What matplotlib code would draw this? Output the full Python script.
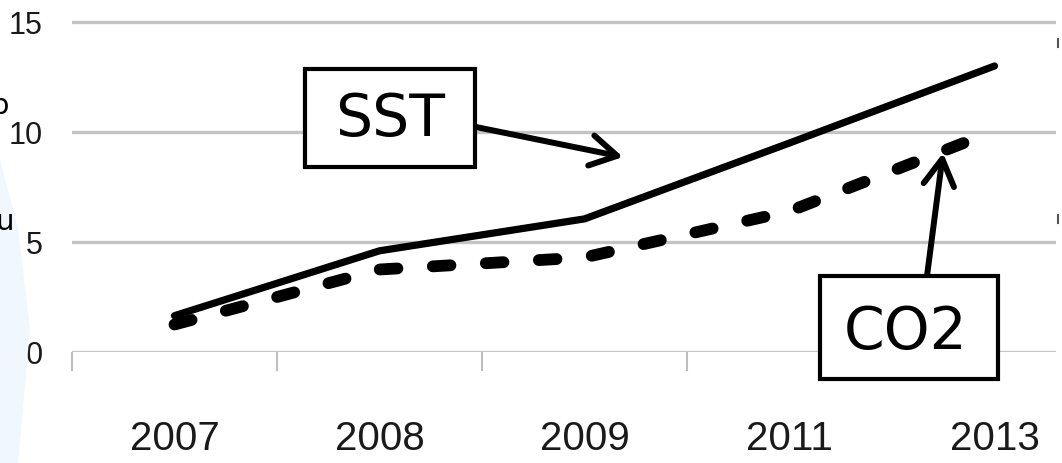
import matplotlib
matplotlib.use("Agg")
import matplotlib.pyplot as plt
from matplotlib.patches import Rectangle, Polygon
from matplotlib.lines import Line2D

years = ["2007", "2008", "2009", "2011", "2013"]
sst = [1.65, 4.6, 6.05, 9.5, 13.0]
co2 = [1.25, 3.75, 4.3, 6.4, 10.05]
yticks = [0, 5, 10, 15]

W, H = 1062, 464
fig = plt.figure(figsize=(W / 100, H / 100), dpi=100)
tickfont = "Liberation Sans"


def fx(px):
    return px / W


def fy(py):
    return 1 - py / H


# faint light blue background shape on the left
fig.patches.append(Polygon([(fx(0), fy(160)), (fx(18), fy(230)), (fx(30), fy(330)),
                            (fx(18), fy(464)), (fx(0), fy(464))],
                           closed=True, transform=fig.transFigure,
                           facecolor="#f0f7fd", edgecolor="none", zorder=0))

ax = fig.add_axes([fx(72), fy(353), fx(1056) - fx(72), (353 - 12) / H])
ax.set_facecolor("none")
x = list(range(len(years)))
ax.set_xlim(-0.5, 4.3)
ax.set_ylim(0, 15.5)

for sp in ax.spines.values():
    sp.set_visible(False)

ax.set_yticks(yticks)
ax.set_yticklabels([str(v) for v in yticks], fontfamily=tickfont, fontsize=22,
                   color="#1a1a1a")
ax.tick_params(axis="y", length=0, pad=21)
ax.yaxis.grid(True, color="#c4c4c4", linewidth=2.4)
ax.set_axisbelow(True)

ax.set_xticks(x)
ax.set_xticklabels(years, fontfamily=tickfont, fontsize=29, color="#1a1a1a")
ax.tick_params(axis="x", which="major", length=0, pad=48)
ax.set_xticks([i - 0.5 for i in x], minor=True)
ax.tick_params(axis="x", which="minor", length=14, width=1.5, color="#bdbdbd", direction="out")

ax.plot(x, sst, color="black", linewidth=5.2, solid_capstyle="round", zorder=3)
ln, = ax.plot(x, co2, color="black", linewidth=8.5, zorder=3,
              dash_capstyle="round")
ln.set_dashes((1.5, 3.0))

# SST label box
fig.patches.append(Rectangle((fx(305), fy(168)), fx(475) - fx(305), fy(70) - fy(168),
                             transform=fig.transFigure, facecolor="white",
                             edgecolor="black", linewidth=3, zorder=5))
fig.text(fx(390), fy(120), "SST", fontsize=42, ha="center", va="center",
         family="DejaVu Sans", zorder=6)
fig.add_artist(plt.Annotation("", xy=(fx(623), fy(158)), xycoords="figure fraction",
                              xytext=(fx(476), fy(128)), textcoords="figure fraction",
                              arrowprops=dict(arrowstyle="->,head_length=1.9,head_width=1.1",
                                              mutation_scale=10, lw=4.3, color="black",
                                              shrinkA=0, shrinkB=0)))

# CO2 label box
fig.patches.append(Rectangle((fx(820), fy(380)), fx(998) - fx(820), fy(277) - fy(380),
                             transform=fig.transFigure, facecolor="white",
                             edgecolor="black", linewidth=3, zorder=5))
fig.text(fx(906), fy(332), "CO2", fontsize=42, ha="center", va="center",
         family="DejaVu Sans", zorder=6)
fig.add_artist(plt.Annotation("", xy=(fx(943), fy(154)), xycoords="figure fraction",
                              xytext=(fx(927), fy(277)), textcoords="figure fraction",
                              arrowprops=dict(arrowstyle="->,head_length=1.9,head_width=1.1",
                                              mutation_scale=10, lw=4.3, color="black",
                                              shrinkA=0, shrinkB=0)))

# cut-off fragments at the left edge (partly outside the picture, as in the reference)
fig.text(fx(-10), fy(106), "p", fontsize=21, ha="left", va="center", family="DejaVu Sans")
fig.text(fx(-4), fy(222), "u", fontsize=21, ha="left", va="center", family="DejaVu Sans")
# small marks at right edge
fig.add_artist(Line2D([fx(1058), fx(1058)], [fy(40), fy(48)], transform=fig.transFigure,
                      color="#555555", linewidth=1.5))
fig.add_artist(Line2D([fx(1058), fx(1058)], [fy(216), fy(224)], transform=fig.transFigure,
                      color="#555555", linewidth=1.5))

fig.savefig("out.png", dpi=100)
